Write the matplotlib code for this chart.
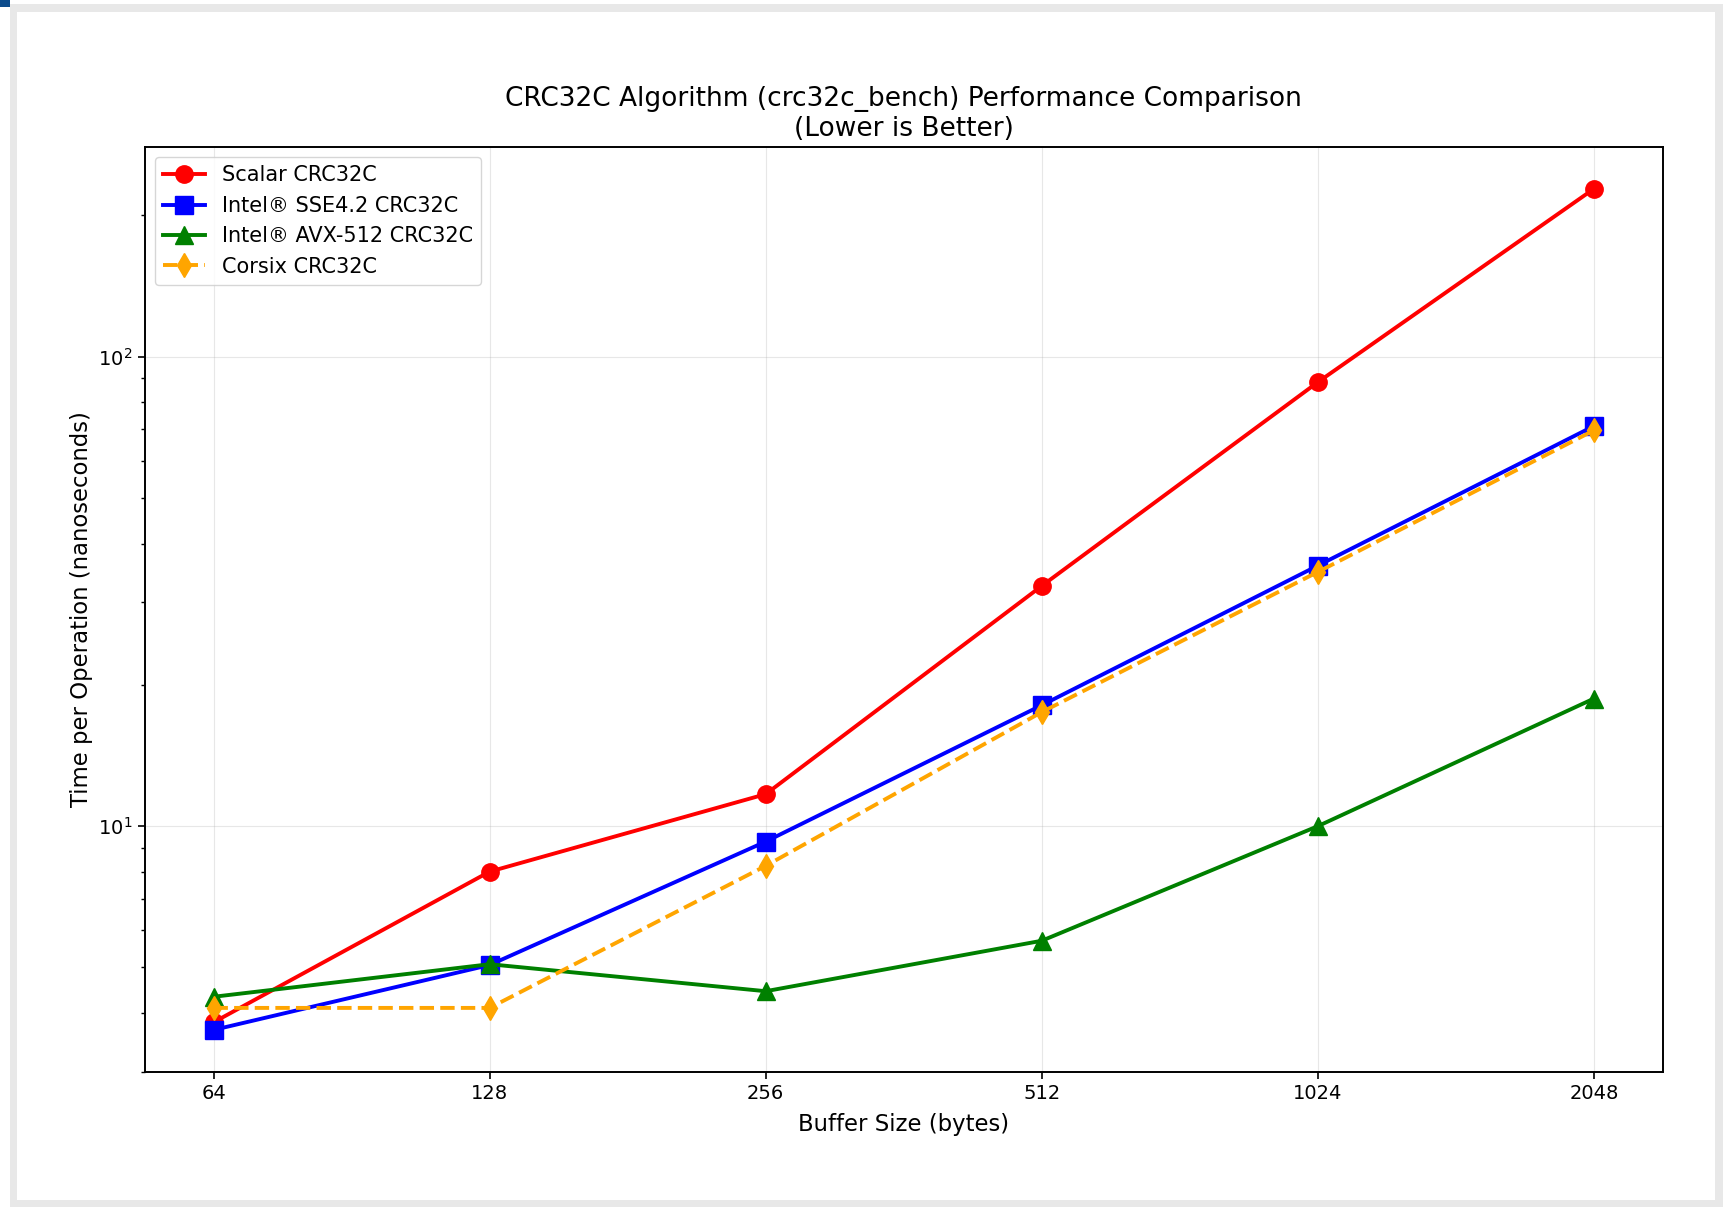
import matplotlib
matplotlib.use("Agg")
import matplotlib.pyplot as plt
from matplotlib.patches import Rectangle
from matplotlib.ticker import NullLocator

# buffer sizes (bytes) and time per operation (ns)
sizes = [64, 128, 256, 512, 1024, 2048]
scalar = [3.82, 8.0, 11.7, 32.5, 88.3, 228.0]
sse42 = [3.68, 5.06, 9.27, 18.1, 35.9, 71.2]
avx512 = [4.33, 5.08, 4.45, 5.70, 10.0, 18.7]
corsix = [4.10, 4.10, 8.23, 17.5, 34.8, 69.7]

labels = ["Scalar CRC32C", "Intel® SSE4.2 CRC32C",
          "Intel® AVX-512 CRC32C", "Corsix CRC32C"]

W, H = 1729, 1207
fig = plt.figure(figsize=(W / 100, H / 100), dpi=100)


def px_rect(x0, y0, x1, y1, color):
    # rectangle given in pixel coords measured from top-left
    fig.patches.append(Rectangle((x0 / W, 1 - y1 / H), (x1 - x0) / W, (y1 - y0) / H,
                                 transform=fig.transFigure, facecolor=color,
                                 edgecolor="none", zorder=-10))


# screenshot frame
px_rect(10, 4, 1723, 1207, "#e8e8e8")
px_rect(17, 12, 1715, 1200, "white")
px_rect(0, 0, 10, 7, "#0d4c8c")

ax = fig.add_axes([144.5 / W, 1 - 1072 / H, (1663 - 144.5) / W, (1072 - 146.7) / H])

lw = 2.8
ms = 12.5
ax.plot(sizes, scalar, color="red", marker="o", lw=lw, ms=ms, label=labels[0])
ax.plot(sizes, sse42, color="blue", marker="s", lw=lw, ms=ms, label=labels[1])
ax.plot(sizes, avx512, color="green", marker="^", lw=lw, ms=ms, label=labels[2])
ax.plot(sizes, corsix, color="orange", marker="d", lw=lw, ms=ms, ls="--", label=labels[3])

ax.set_xscale("log", base=2)
ax.set_yscale("log")
ax.set_xticks(sizes)
ax.set_xticklabels([str(s) for s in sizes])
ax.xaxis.set_minor_locator(NullLocator())

ax.tick_params(axis="both", which="major", labelsize=14, length=5, width=1.2)
ax.tick_params(axis="y", which="minor", length=3, width=1.0)
for s in ax.spines.values():
    s.set_linewidth(1.4)

ax.grid(True, which="major", alpha=0.3)
ax.set_xlabel("Buffer Size (bytes)", fontsize=16.4, labelpad=7)
ax.set_ylabel("Time per Operation (nanoseconds)", fontsize=16.4, labelpad=4)
ax.set_title("CRC32C Algorithm (crc32c_bench) Performance Comparison\n(Lower is Better)",
             fontsize=19, pad=8)
ax.legend(loc="upper left", fontsize=15)

fig.savefig("out.png", dpi=100)
